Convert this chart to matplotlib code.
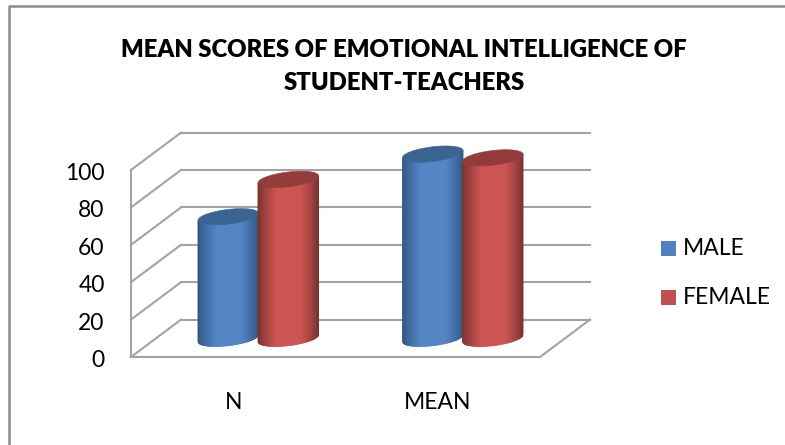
import numpy as np
import matplotlib
matplotlib.use("Agg")
import matplotlib.pyplot as plt
from matplotlib.lines import Line2D
from matplotlib.patches import Polygon, Rectangle
from matplotlib.colors import to_rgb
from matplotlib.transforms import ScaledTranslation

plt.rcParams["font.family"] = ["Lato", "DejaVu Sans"]

categories = ["N", "MEAN"]
series = ["MALE", "FEMALE"]
male = [65, 98.5]
female = [85, 96.5]
y_ticks = [0, 20, 40, 60, 80, 100]
title_lines = ["MEAN SCORES OF EMOTIONAL INTELLIGENCE OF", "STUDENT-TEACHERS"]

W, H = 785, 445
# front plane of the 3d box, in pixels
LEFT, RIGHT, BOTTOM, TOP = 131, 540, 357, 170
DX_PX, DY_PX = 50, 37.4
SX = 2 / (RIGHT - LEFT)
SY = 100 / (BOTTOM - TOP)
DX, DY = DX_PX * SX, DY_PX * SY
GRID = "#a3a3a3"

fig = plt.figure(figsize=(W / 100, H / 100), dpi=100)
# outer border runs off the picture at right and bottom
fig.add_artist(Line2D([8.5 / W, 8.5 / W, 1], [0, 1 - 5.5 / H, 1 - 5.5 / H], color="#8c8c8c", lw=1.8,
                      transform=fig.transFigure))

ax = fig.add_axes([LEFT / W, 1 - BOTTOM / H, (RIGHT - LEFT) / W, (BOTTOM - TOP) / H])
ax.set_xlim(0, 2)
ax.set_ylim(0, 100)
ax.patch.set_visible(False)
for s in ax.spines.values():
    s.set_visible(False)

# box: wall lines, back grid lines, floor
for v in y_ticks:
    ax.plot([0, DX], [v, v + DY], color=GRID, lw=1.5, clip_on=False, zorder=1)
    ax.plot([DX, 2 + DX], [v + DY, v + DY], color=GRID, lw=1.5, clip_on=False, zorder=1)
ax.plot([0, 0], [0, 100], color=GRID, lw=1.5, clip_on=False, zorder=1)
ax.plot([0, 2, 2 + DX], [0, 0, DY], color=GRID, lw=1.5, clip_on=False, zorder=1)


def shade(base, edge, f):
    # f 0 at the edge of the cylinder, 1 on the lit part
    b, e = np.array(to_rgb(base)), np.array(to_rgb(edge))
    return tuple(e + (b - e) * min(1, f) ** 0.8)


def cylinder(xc, val, base, edge, cap, z):
    a, b = 30.5, 7.3
    th = np.radians(7)
    # strips evenly wide across the bar, so the dark edges keep their width
    t = np.pi + np.arccos(np.linspace(-1, 1, 71))[::-1][::-1]
    t = np.sort(t)
    ex = lambda t: (a * np.cos(t) * np.cos(th) - b * np.sin(t) * np.sin(th)) * SX
    ey = lambda t: (a * np.cos(t) * np.sin(th) + b * np.sin(t) * np.cos(th)) * SY
    y0 = DY / 2
    x = xc + ex(t)
    lo = y0 + ey(t)
    hi = y0 + val + ey(t)
    for i in range(len(t) - 1):
        u = (i + 0.5) / (len(t) - 1)
        f = min(u, 1 - u) / 0.3
        pts = [(x[i], lo[i]), (x[i + 1], lo[i + 1]), (x[i + 1], hi[i + 1]), (x[i], hi[i])]
        c = shade(base, edge, f)
        ax.add_patch(Polygon(pts, fc=c, ec=c, lw=0.6, zorder=z, clip_on=False))
    tt = np.linspace(0, 2 * np.pi, 120)
    ax.add_patch(Polygon(np.column_stack([xc + ex(tt), y0 + val + ey(tt)]),
                         fc=cap, ec=cap, lw=0.4, zorder=z + 0.1, clip_on=False))


off = 30 * SX
for i, cat in enumerate(categories):
    xc = i + 0.5 + DX / 2
    cylinder(xc - off, male[i], "#5486c6", "#2f5480", "#3a6592", 3 + i)
    cylinder(xc + off, female[i], "#cc5553", "#78302e", "#943c3a", 3.5 + i)

ax.set_xticks([0.5, 1.5], categories)
ax.set_yticks(y_ticks)
ax.tick_params(length=0, labelsize=16.5, labelcolor="black")
ax.tick_params(axis="x", pad=25)
ax.tick_params(axis="y", pad=19)
# labels sit a little lower than matplotlib centres them
shift = ScaledTranslation(0, -1.5 / 100, fig.dpi_scale_trans)
for lab in ax.get_yticklabels():
    lab.set_transform(lab.get_transform() + shift)

for line, yy in zip(title_lines, [50, 83]):
    fig.text(404 / W, 1 - yy / H, line, ha="center", va="center", fontsize=17.2, fontweight="heavy")

# legend
for name, col, yy in zip(series, ["#4f81bd", "#c0504d"], [248.5, 297.5]):
    fig.add_artist(Rectangle((661 / W, 1 - (yy + 7.5) / H), 15 / W, 15 / H, fc=col, ec="none",
                             transform=fig.transFigure))
    fig.text(683 / W, 1 - (yy + 0.5) / H, name, ha="left", va="center", fontsize=16.5)

fig.savefig("out.png", dpi=100)
